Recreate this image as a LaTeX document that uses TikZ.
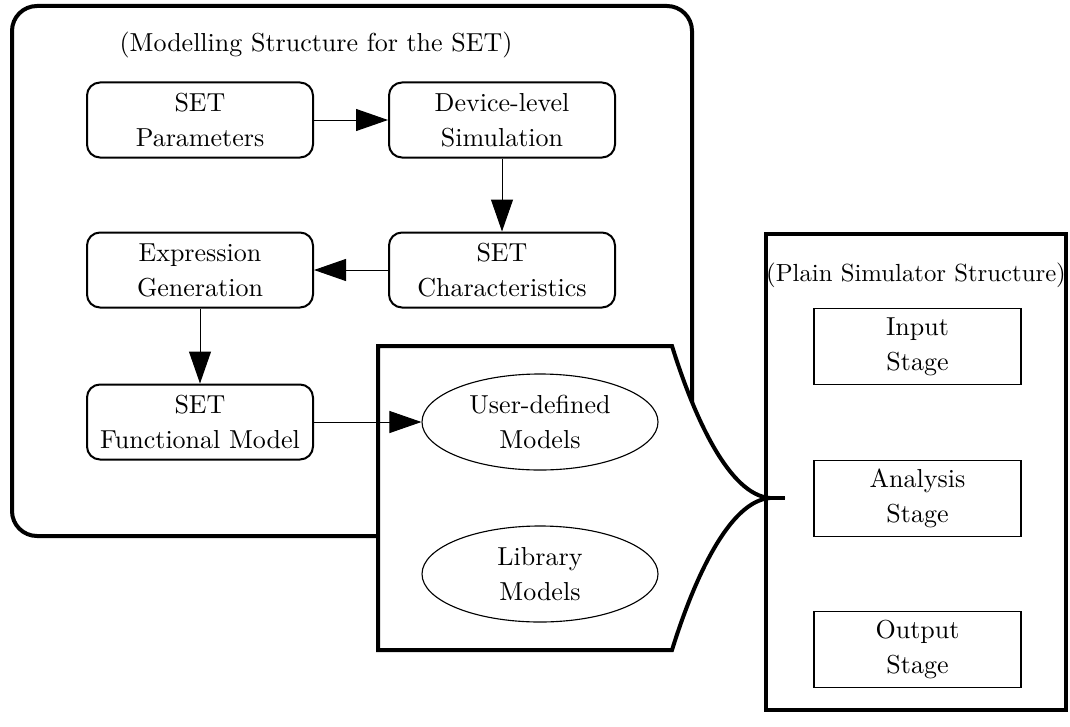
\documentclass[tikz,border=0pt]{standalone}
\usetikzlibrary{arrows.meta,shapes.geometric}
\begin{document}
\begin{tikzpicture}[x=0.4pt,y=-0.4pt,
  every node/.style={font=\fontsize{10.4pt}{14pt}\selectfont},
  heavy/.style={line width=1.6pt},
  procbox/.style={draw, line width=0.8pt, rounded corners=5.2pt,
    minimum width=90.4pt, minimum height=30pt, align=center, inner sep=0pt},
  stagebox/.style={draw, line width=0.7pt,
    minimum width=82.8pt, minimum height=30.4pt, align=center, inner sep=0pt},
  modelell/.style={draw, ellipse, line width=0.45pt,
    minimum width=94.4pt, minimum height=38.4pt, align=center, inner sep=0pt},
  flow/.style={line width=0.4pt, -{Triangle[length=12.8pt,width=8.8pt]}}]
\useasboundingbox (0,0) rectangle (1070,726);

% modelling structure frame
\draw[heavy, rounded corners=10pt] (12,6) rectangle (692,536);

% model library callout, pointing into the simulator
\draw[heavy, fill=white] (378,346) -- (672,346)
  .. controls (695,420) and (730,495) .. (770,498)
  .. controls (730,501) and (695,576) .. (672,650)
  -- (378,650) -- cycle;
\coordinate (tip) at (770,498);
\coordinate (tipend) at (785,498);
\draw[heavy] (tip) -- (tipend);

% modelling flow
\node (ttl) at (316,45) {(Modelling Structure for the SET)};
\node[procbox] (par) at (200,120) {SET\\Parameters};
\node[procbox] (dev) at (502,120) {Device-level\\Simulation};
\node[procbox] (chr) at (502,270) {SET\\Characteristics};
\node[procbox] (expr) at (200,270) {Expression\\Generation};
\node[procbox] (fun) at (200,422) {SET\\Functional Model};

\node[modelell] (user) at (540,422) {User-defined\\Models};
\node[modelell] (lib) at (540,574) {Library\\Models};

\draw[flow] (par) -- (dev);
\draw[flow] (dev) -- (chr);
\draw[flow] (chr) -- (expr);
\draw[flow] (expr) -- (fun);
\draw[flow] (fun) -- (user);

% plain simulator
\draw[heavy] (766,234) rectangle (1066,710);
\node[font=\fontsize{9.9pt}{14pt}\selectfont, inner sep=0pt] (ptl) at (916,275) {(Plain Simulator Structure)};
\node[stagebox] (inp) at (917.5,346.5) {Input\\Stage};
\node[stagebox] (ana) at (917.5,498.5) {Analysis\\Stage};
\node[stagebox] (out) at (917.5,649.5) {Output\\Stage};
\end{tikzpicture}
\end{document}
